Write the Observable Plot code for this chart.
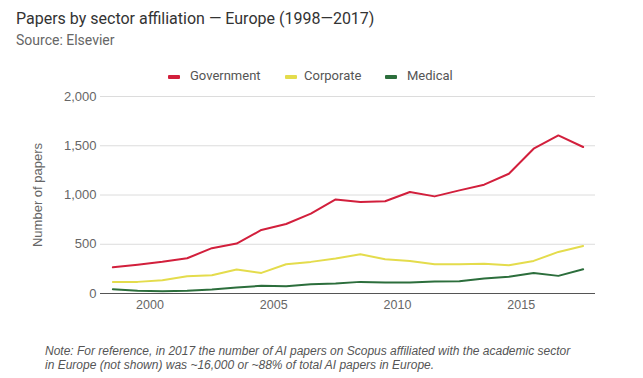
<!DOCTYPE html>
<html>
<head>
<meta charset="utf-8">
<script src="https://cdn.jsdelivr.net/npm/d3@7"></script>
<script src="https://cdn.jsdelivr.net/npm/@observablehq/plot@0.6"></script>
<style>
  html, body { margin: 0; padding: 0; background: #fff; }
  #wrap { position: relative; width: 643px; height: 378px; overflow: hidden; }
  .title { position: absolute; left: 16px; top: 9px; font: 16px Roboto, sans-serif; color: #333; white-space: nowrap; }
  .subtitle { position: absolute; left: 16px; top: 32px; font: 14px Roboto, sans-serif; color: #666; white-space: nowrap; }
  .legend { position: absolute; top: 68px; left: 0; width: 643px; font: 13px Roboto, sans-serif; color: #555; }
  .legend .item { position: absolute; top: 0; white-space: nowrap; }
  .legend .sw { position: absolute; top: 7px; width: 12px; height: 4px; border-radius: 1px; }
  .note { position: absolute; left: 45px; top: 344px; font: italic 12px "Liberation Sans", Arial, sans-serif; color: #555; line-height: 14px; white-space: nowrap; }
  #chart { position: absolute; left: 0; top: 88px; }
</style>
</head>
<body>
<div id="wrap">
  <div class="title">Papers by sector affiliation — Europe (1998—2017)</div>
  <div class="subtitle">Source: Elsevier</div>
  <div class="legend" id="legend"></div>
  <div id="chart"></div>
  <div class="note">Note: For reference, in 2017 the number of AI papers on Scopus affiliated with the academic sector<br>in Europe (not shown) was ~16,000 or ~88% of total AI papers in Europe.</div>
</div>
<script>
const years = [1998, 1999, 2000, 2001, 2002, 2003, 2004, 2005, 2006, 2007, 2008, 2009, 2010, 2011, 2012, 2013, 2014, 2015, 2016, 2017];
const government = [266, 292, 322, 358, 460, 507, 645, 706, 811, 955, 929, 936, 1030, 986, 1047, 1105, 1216, 1470, 1605, 1487];
const corporate = [118, 118, 135, 176, 186, 243, 209, 297, 321, 355, 398, 348, 331, 297, 297, 303, 287, 331, 422, 483];
const medical = [44, 27, 24, 27, 40, 61, 78, 74, 94, 101, 118, 112, 112, 121, 125, 152, 169, 209, 179, 246];
const seriesNames = ["Government", "Corporate", "Medical"];
const seriesColors = ["#d21f3c", "#e4dc4c", "#2c6e3c"];
const xTicks = [2000, 2005, 2010, 2015];
const yTicks = [0, 500, 1000, 1500, 2000];

const seriesValues = [government, corporate, medical];
const rows = [];
seriesNames.forEach((name, s) => {
  years.forEach((yr, i) => rows.push({series: name, year: yr + 0.5, value: seriesValues[s][i]}));
});

const chart = Plot.plot({
  width: 643,
  height: 232,
  marginLeft: 100,
  marginRight: 48,
  marginTop: 8,
  marginBottom: 27,
  style: { fontFamily: "'Liberation Sans', Arial, sans-serif", fontSize: "12px", color: "#666", background: "transparent" },
  x: { domain: [1998, 2018] },
  y: { domain: [0, 2000] },
  color: { domain: seriesNames, range: seriesColors },
  marks: [
    Plot.gridY(yTicks.filter(d => d > 0), { stroke: "#dcdcdc", strokeOpacity: 1, strokeWidth: 1 }),
    Plot.axisY(yTicks, { tickSize: 0, tickPadding: 4, tickFormat: d3.format(","), label: "Number of papers", labelAnchor: "center", labelArrow: "none", labelOffset: 68, fontSize: 13 }),
    Plot.axisX(xTicks, { tickSize: 0, tickPadding: 7, tickFormat: d => String(d), label: null, fontSize: 12.5 }),
    Plot.line(rows, { x: "year", y: "value", z: "series", stroke: "series", strokeWidth: 2, curve: "linear" }),
    Plot.ruleY([0], { stroke: "#555", strokeWidth: 1 })
  ]
});
document.getElementById("chart").appendChild(chart);

const legend = document.getElementById("legend");
const swatchX = [168, 285, 385];
const labelX = [190, 304, 407];
seriesNames.forEach((name, i) => {
  const sw = document.createElement("div");
  sw.className = "sw";
  sw.style.left = swatchX[i] + "px";
  sw.style.background = seriesColors[i];
  legend.appendChild(sw);
  const it = document.createElement("div");
  it.className = "item";
  it.style.left = labelX[i] + "px";
  it.textContent = name;
  legend.appendChild(it);
});
</script>
</body>
</html>
